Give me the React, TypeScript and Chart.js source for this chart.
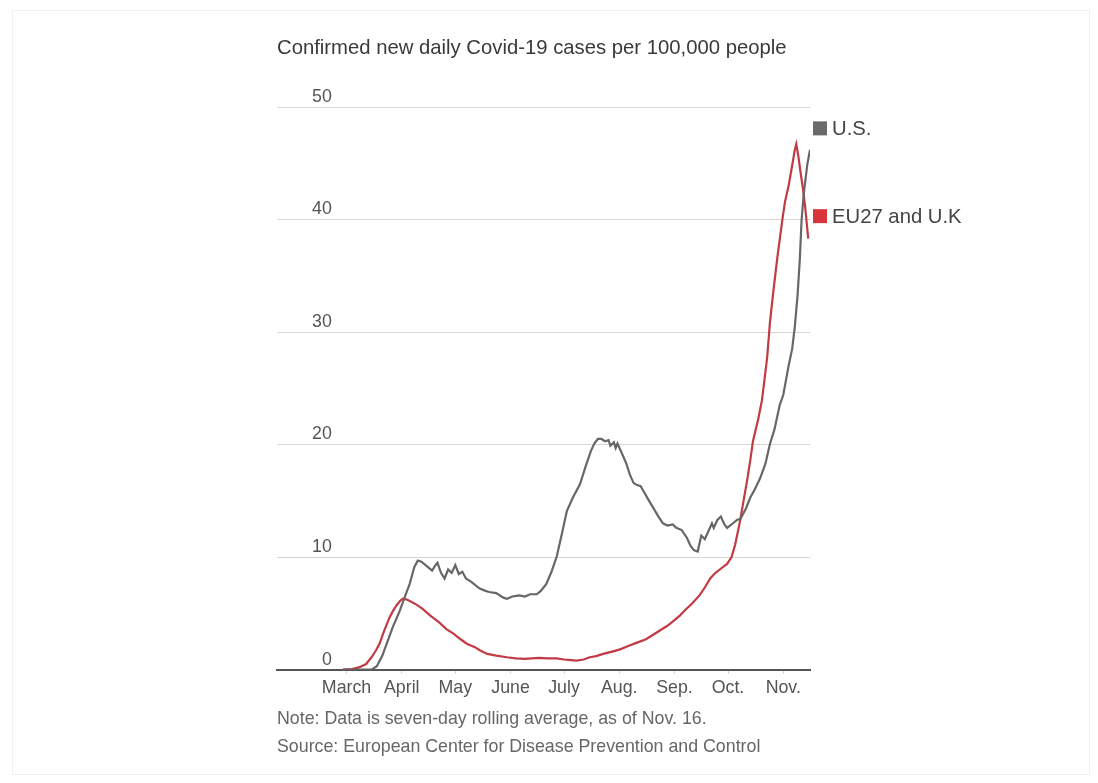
import React, { useEffect, useRef } from "react";
import { Chart, registerables } from "chart.js";

Chart.register(...registerables);

// ---- Data ----
const titleText = "Confirmed new daily Covid-19 cases per 100,000 people";
const noteLines = [
  "Note: Data is seven-day rolling average, as of Nov. 16.",
  "Source: European Center for Disease Prevention and Control",
];

// x = day index, 0 = March 1
const monthLabels = ["March", "April", "May", "June", "July", "Aug.", "Sep.", "Oct.", "Nov."];
const monthStartDays = [0, 31, 61, 92, 122, 153, 184, 214, 245];
const yTickValues = [0, 10, 20, 30, 40, 50];

const seriesNames = ["U.S.", "EU27 and U.K"];
const seriesColors = ["#676767", "#c23a44"];
const legendSwatch = ["#6a6a6a", "#d8353b"];
const legendValues = [48.1, 40.3];

const usDays = [
  -2, 14, 17, 20, 22.5, 26, 29.8, 33, 35.4, 38, 40, 42, 45, 48, 50, 51, 53, 55, 57, 59, 61, 63, 65, 67,
  70, 74.7, 78, 80, 84, 88, 90, 93, 97, 100, 103, 106.7, 109, 112, 115, 118, 121, 123.6, 127, 131, 134,
  137, 139, 141, 143, 145, 147, 148, 150, 151, 152, 154, 157, 159, 161, 163, 165, 166.5, 169, 172, 175,
  177.5, 180, 183, 185, 188, 191, 193, 195, 197, 199, 201, 203, 205, 206, 208, 210, 212, 213.5, 216,
  219, 221, 224, 226.5, 229, 232, 235, 237.6, 240, 243, 245, 248, 250, 251.5, 253, 254.3, 255.3, 256.5,
  257.5, 258.5, 260,
];
const usValues = [
  0, 0, 0.3, 1.2, 2.3, 3.8, 5.2, 6.6, 7.6, 9.1, 9.7, 9.6, 9.2, 8.8, 9.3, 9.5, 8.6, 8.1, 8.9, 8.6, 9.3, 8.5,
  8.7, 8.1, 7.8, 7.2, 7.0, 6.9, 6.8, 6.4, 6.3, 6.5, 6.6, 6.5, 6.7, 6.7, 7.0, 7.6, 8.7, 10.1, 12.2, 14.1,
  15.3, 16.5, 18.0, 19.4, 20.1, 20.5, 20.5, 20.3, 20.4, 19.9, 20.2, 19.7, 20.1, 19.4, 18.3, 17.3, 16.6,
  16.4, 16.3, 15.9, 15.2, 14.4, 13.6, 13.0, 12.8, 12.9, 12.6, 12.4, 11.7, 11.0, 10.6, 10.5, 11.9, 11.6,
  12.3, 13.0, 12.6, 13.3, 13.6, 12.9, 12.6, 12.9, 13.3, 13.4, 14.3, 15.3, 16.0, 17.0, 18.3, 20.1, 21.3,
  23.5, 24.4, 27.0, 28.5, 30.5, 33.2, 36.5, 40.0, 42.3, 43.6, 44.9, 46.2,
];

const euDays = [
  -2, 3, 7, 11, 14, 16.5, 18.5, 21, 24, 26, 28, 30, 31.5, 33.5, 35.5, 39, 42.7, 47, 52, 56, 60, 64, 67.5,
  72, 75, 79, 84, 90, 95, 100, 104, 108, 113, 118, 122, 126, 129, 133, 136.5, 140, 144, 149, 153.5, 158,
  163, 168, 172, 176, 180, 184, 187, 190, 194, 198, 201, 204, 207, 211, 213.5, 216, 218, 220.5, 222.5,
  224.7, 226.5, 228, 231, 233, 234.5, 236, 237.5, 239, 241.5, 244.5, 246, 248, 250, 251.5, 252.3, 253.5,
  254.5, 256, 257.3, 259,
];
const euValues = [
  0, 0.05, 0.2, 0.5, 1.1, 1.7, 2.3, 3.4, 4.6, 5.2, 5.7, 6.1, 6.3, 6.25, 6.1, 5.8, 5.4, 4.8, 4.2, 3.6, 3.2,
  2.7, 2.3, 2.0, 1.7, 1.4, 1.25, 1.1, 1.0, 0.95, 1.0, 1.05, 1.0, 1.0, 0.9, 0.85, 0.8, 0.9, 1.1, 1.2, 1.4,
  1.6, 1.8, 2.1, 2.4, 2.7, 3.1, 3.5, 3.9, 4.4, 4.8, 5.3, 5.9, 6.6, 7.3, 8.1, 8.6, 9.1, 9.4, 10.0, 11.1,
  13.0, 14.8, 16.8, 18.6, 20.3, 22.3, 23.9, 25.8, 27.8, 30.8, 33.0, 36.4, 40.0, 41.6, 43.0, 44.8, 46.2,
  46.7, 45.6, 44.4, 42.8, 41.1, 38.3,
];

const FONT = "'Liberation Sans', Arial, Helvetica, sans-serif";

const endLabelsPlugin = {
  id: "endLabels",
  afterDraw(chart: any) {
    const { ctx, chartArea, scales } = chart;
    const y = scales.y;
    ctx.save();
    seriesNames.forEach((name, i) => {
      const py = y.getPixelForValue(legendValues[i]);
      const px = chartArea.right + 3;
      ctx.fillStyle = legendSwatch[i];
      ctx.fillRect(px, py - 7, 14, 14);
      ctx.fillStyle = "#444";
      ctx.font = `20.3px ${FONT}`;
      ctx.textAlign = "left";
      ctx.textBaseline = "middle";
      ctx.fillText(name, px + 19, py + 1);
    });
    ctx.restore();
  },
};

export default function App() {
  const canvasRef = useRef<HTMLCanvasElement | null>(null);

  useEffect(() => {
    if (!canvasRef.current) return;
    const chart = new Chart(canvasRef.current, {
      type: "line",
      data: {
        datasets: [
          {
            label: seriesNames[0],
            data: usDays.map((d, i) => ({ x: d, y: usValues[i] })),
            borderColor: seriesColors[0],
            borderWidth: 2.2,
            pointRadius: 0,
            tension: 0,
            fill: false,
          },
          {
            label: seriesNames[1],
            data: euDays.map((d, i) => ({ x: d, y: euValues[i] })),
            borderColor: seriesColors[1],
            borderWidth: 2.2,
            pointRadius: 0,
            tension: 0,
            fill: false,
          },
        ],
      },
      options: {
        animation: false,
        responsive: false,
        maintainAspectRatio: false,
        parsing: true,
        layout: { padding: { left: 207, right: 288, top: 107, bottom: 80 } },
        plugins: {
          legend: { display: false },
          tooltip: { enabled: false },
          title: { display: false },
        },
        scales: {
          x: {
            type: "linear",
            min: -39,
            max: 260,
            afterBuildTicks: (scale: any) => {
              scale.ticks = monthStartDays.map((v) => ({ value: v }));
            },
            ticks: {
              autoSkip: false,
              maxRotation: 0,
              minRotation: 0,
              padding: 4,
              color: "#555",
              font: { family: FONT, size: 17.8 },
              callback: (_v: any, index: number) => monthLabels[index],
            },
            grid: {
              display: true,
              drawOnChartArea: false,
              drawTicks: true,
              tickLength: 4,
              tickColor: "#cfcfcf",
              color: "transparent",
            },
            border: { display: true, color: "#555", width: 2 },
          },
          y: {
            type: "linear",
            position: "left",
            min: 0,
            max: 50,
            afterBuildTicks: (scale: any) => {
              scale.ticks = yTickValues.map((v) => ({ value: v }));
            },
            ticks: {
              mirror: true,
              crossAlign: "far",
              padding: 35,
              labelOffset: -10,
              color: "#555",
              font: { family: FONT, size: 17.8 },
            },
            grid: {
              drawTicks: false,
              color: (c: any) => (c.tick && c.tick.value === 0 ? "transparent" : "#d6d6d6"),
              lineWidth: 1,
            },
            border: { display: false },
          },
        },
      },
      plugins: [endLabelsPlugin],
    });
    return () => chart.destroy();
  }, []);

  return (
    <div
      style={{
        position: "absolute",
        left: 0,
        top: 0,
        width: 1098,
        height: 783,
        background: "#fff",
        overflow: "hidden",
        fontFamily: FONT,
      }}
    >
      <div
        style={{
          position: "absolute",
          left: 12,
          top: 10,
          width: 1078,
          height: 765,
          border: "1px solid #f0f0f0",
          boxSizing: "border-box",
        }}
      />
      <canvas ref={canvasRef} width={1098} height={783} style={{ position: "absolute", left: 0, top: 0 }} />
      <div
        style={{
          position: "absolute",
          left: 277,
          top: 35,
          fontSize: 20.3,
          lineHeight: "24px",
          color: "#3a3a3a",
          whiteSpace: "nowrap",
        }}
      >
        {titleText}
      </div>
      <div
        style={{
          position: "absolute",
          left: 277,
          top: 704,
          fontSize: 17.8,
          lineHeight: "28px",
          color: "#666",
          whiteSpace: "nowrap",
        }}
      >
        {noteLines.map((l, i) => (
          <div key={i}>{l}</div>
        ))}
      </div>
    </div>
  );
}
